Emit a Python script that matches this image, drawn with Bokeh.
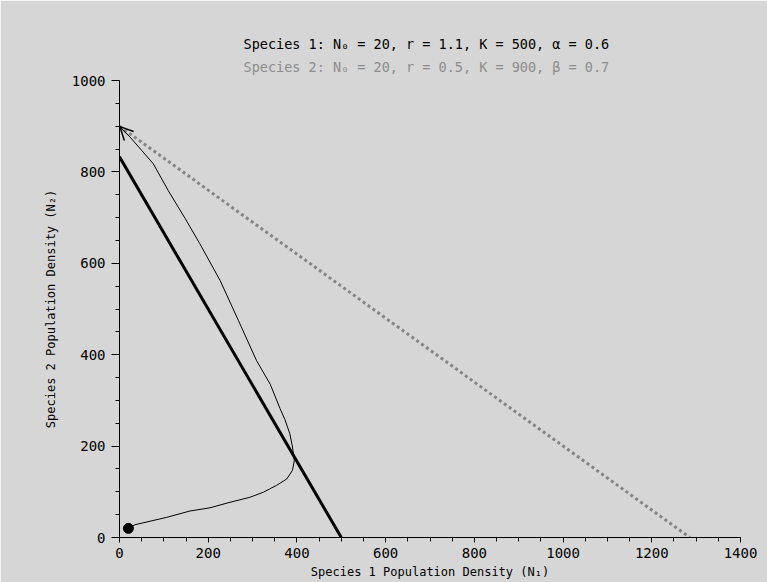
from bokeh.plotting import figure
from bokeh.models import Range1d, SingleIntervalTicker, Title, Arrow, OpenHead
from bokeh.embed import file_html
from bokeh.resources import INLINE

# ---- data ----
title1 = "Species 1: N\u2080 = 20, r = 1.1, K = 500, \u03b1 = 0.6"
title2 = "Species 2: N\u2080 = 20, r = 0.5, K = 900, \u03b2 = 0.7"
x_label = "Species 1 Population Density (N\u2081)"
y_label = "Species 2 Population Density (N\u2082)"

# species 1 isocline (thick black)
iso1_n1 = [0, 500]
iso1_n2 = [833, 0]
# species 2 isocline (grey dotted)
iso2_n1 = [0, 1286]
iso2_n2 = [900, 0]

# trajectory
traj_n1 = [20, 35, 106, 159, 204, 249, 294, 324, 354, 377, 390, 394, 390, 384, 373,
           362, 340, 309, 268, 227, 181, 148, 110, 76, 50, 24, 5]
traj_n2 = [20, 28, 44, 58, 65, 77, 88, 99, 114, 128, 147, 168, 198, 227, 258,
           282, 335, 387, 475, 562, 643, 698, 759, 818, 847, 876, 894]
end_n1 = 1
end_n2 = 899

start_n1 = [20]
start_n2 = [20]

BG = "#d6d6d6"
FONT = "DejaVu Sans Mono"

p = figure(width=767, height=582, x_range=Range1d(0, 1400), y_range=Range1d(0, 1000),
           output_backend="svg", toolbar_location=None,
           min_border_left=119, min_border_right=27, min_border_top=80, min_border_bottom=45,
           background_fill_color=BG, border_fill_color=BG, outline_line_color=BG)
p.grid.visible = False

for ax in (p.xaxis[0], p.yaxis[0]):
    ax.axis_line_color = "black"
    ax.major_tick_line_color = "black"
    ax.minor_tick_line_color = "black"
    ax.major_tick_in = 0
    ax.minor_tick_in = 0
    ax.major_label_text_font = FONT
    ax.major_label_text_font_size = "14px"
    ax.major_label_text_color = "black"
    ax.axis_label_text_font = FONT
    ax.axis_label_text_font_size = "12px"
    ax.axis_label_text_font_style = "normal"
    ax.axis_label_text_color = "black"

p.xaxis.ticker = SingleIntervalTicker(interval=200, num_minor_ticks=4)
p.yaxis.ticker = SingleIntervalTicker(interval=200, num_minor_ticks=4)
p.xaxis.major_tick_out = 5
p.xaxis.minor_tick_out = 4
p.yaxis.major_tick_out = 8
p.yaxis.minor_tick_out = 4
p.xaxis.major_label_standoff = 5
p.yaxis.major_label_standoff = 6
p.xaxis.axis_label = x_label
p.yaxis.axis_label = y_label
p.xaxis.axis_label_standoff = 4
p.yaxis.axis_label_standoff = 11

p.line(iso2_n1, iso2_n2, line_color="#858585", line_width=3, line_dash="3 3")
p.line(iso1_n1, iso1_n2, line_color="black", line_width=3)
p.line(traj_n1 + [end_n1], traj_n2 + [end_n2], line_color="black", line_width=1)
p.scatter(start_n1, start_n2, size=10, color="black")
p.add_layout(Arrow(end=OpenHead(size=13, line_width=1.5, line_color="black"),
                   x_start=traj_n1[-2], y_start=traj_n2[-2], x_end=end_n1, y_end=end_n2,
                   line_color="black", line_width=1))

t2 = Title(text=title2, align="left", offset=124, text_color="#8c8c8c",
           text_font=FONT, text_font_size="13.5px", text_font_style="normal", standoff=11)
t1 = Title(text=title1, align="left", offset=124, text_color="black",
           text_font=FONT, text_font_size="13.5px", text_font_style="normal", standoff=0)
p.add_layout(t2, "above")
p.add_layout(t1, "above")

open("out.html", "w").write(file_html(p, INLINE))
